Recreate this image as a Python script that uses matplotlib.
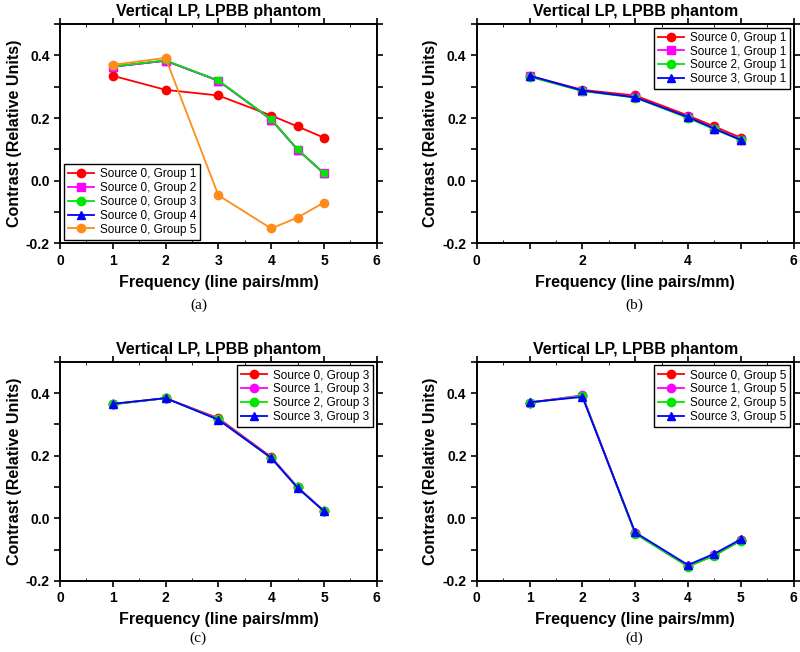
import matplotlib
matplotlib.use("Agg")
import matplotlib.pyplot as plt
from matplotlib.ticker import MultipleLocator

plt.rcParams["font.family"] = ["Liberation Sans", "DejaVu Sans"]

freq = [1, 2, 3, 4, 4.5, 5]

# panel (a): source 0, groups 1-5
a_g1 = [0.335, 0.290, 0.272, 0.208, 0.173, 0.137]
a_g2 = [0.364, 0.383, 0.319, 0.195, 0.099, 0.023]
a_g3 = [0.365, 0.384, 0.320, 0.196, 0.100, 0.023]
a_g4 = [0.364, 0.383, 0.319, 0.195, 0.099, 0.023]
a_g5 = [0.370, 0.392, -0.047, -0.153, -0.118, -0.070]

# panel (b): sources 0-3, group 1
b_s0 = [0.335, 0.290, 0.272, 0.208, 0.173, 0.137]
b_s1 = [0.333, 0.287, 0.267, 0.202, 0.166, 0.131]
b_s2 = [0.332, 0.286, 0.265, 0.200, 0.164, 0.129]
b_s3 = [0.335, 0.288, 0.266, 0.203, 0.166, 0.130]

# panel (c): sources 0-3, group 3
c_s0 = [0.365, 0.384, 0.320, 0.196, 0.100, 0.023]
c_s1 = [0.365, 0.384, 0.318, 0.194, 0.099, 0.023]
c_s2 = [0.364, 0.384, 0.316, 0.193, 0.099, 0.023]
c_s3 = [0.366, 0.384, 0.315, 0.193, 0.097, 0.023]

# panel (d): sources 0-3, group 5
d_s0 = [0.370, 0.392, -0.048, -0.153, -0.118, -0.070]
d_s1 = [0.370, 0.393, -0.048, -0.153, -0.118, -0.070]
d_s2 = [0.369, 0.391, -0.049, -0.154, -0.119, -0.071]
d_s3 = [0.371, 0.388, -0.045, -0.149, -0.113, -0.067]

RED, MAG, GRN, BLU, ORG = "#ff0000", "#ff00ff", "#00e600", "#0000ff", "#ff8c1a"

fig = plt.figure(figsize=(8, 6.52), dpi=100)
positions = {
    "a": [0.075, 0.627, 0.396, 0.336],
    "b": [0.596, 0.627, 0.396, 0.336],
    "c": [0.075, 0.109, 0.396, 0.336],
    "d": [0.596, 0.109, 0.396, 0.336],
}


def style_axes(ax, xstep_label):
    ax.set_xlim(0, 6)
    ax.set_ylim(-0.2, 0.5)
    ax.xaxis.set_minor_locator(MultipleLocator(0.5))
    ax.tick_params(which="major", direction="out", length=4, width=1.2,
                   top=True, right=True, labelsize=10)
    ax.tick_params(which="minor", direction="in", length=2, width=0.6,
                   top=True, bottom=True)
    xt = list(range(0, 7))
    ax.set_xticks(xt)
    ax.set_xticklabels([str(v) if v % xstep_label == 0 else "" for v in xt],
                       fontweight="bold")
    yt = [-0.2, -0.1, 0.0, 0.1, 0.2, 0.3, 0.4, 0.5]
    ax.set_yticks(yt)
    ax.set_yticklabels(["-0.2", "", "0.0", "", "0.2", "", "0.4", ""],
                       fontweight="bold")
    for s in ax.spines.values():
        s.set_linewidth(1.4)
    ax.set_title("Vertical LP, LPBB phantom", fontsize=11.5, fontweight="bold", pad=6)
    ax.set_xlabel("Frequency (line pairs/mm)", fontsize=11.5, fontweight="bold", labelpad=5)
    ax.set_ylabel("Contrast (Relative Units)", fontsize=11.5, fontweight="bold", labelpad=3)


def legend(ax, handles=None, labels=None, loc="upper right"):
    if handles is None:
        handles, labels = ax.get_legend_handles_labels()
    leg = ax.legend(handles, labels, loc=loc, fontsize=8.5, frameon=True,
                    fancybox=False, framealpha=1, borderpad=0.35, labelspacing=0.15,
                    handlelength=2.2, handletextpad=0.5, borderaxespad=0.3)
    leg.get_frame().set_edgecolor("black")
    leg.get_frame().set_linewidth(1.0)


def panel_label(x, y, text):
    fig.text(x, y, text, family=["Liberation Serif", "DejaVu Serif"],
             fontsize=11, ha="center", va="center")


kw = dict(linewidth=1.3, markersize=6)

# (a)
ax = fig.add_axes(positions["a"])
ax.plot(freq, a_g1, color=RED, marker="o", label="Source 0, Group 1", **kw)
ax.plot(freq, a_g4, color=BLU, marker="^", label="Source 0, Group 4", **kw)
ax.plot(freq, a_g2, color=MAG, marker="s", label="Source 0, Group 2", **kw)
ax.plot(freq, a_g3, color=GRN, marker="s", linewidth=1.3, markersize=5)
ax.plot([], [], color=GRN, marker="o", label="Source 0, Group 3", **kw)
ax.plot(freq, a_g5, color=ORG, marker="o", label="Source 0, Group 5", **kw)
handles, labels = ax.get_legend_handles_labels()
order = [labels.index("Source 0, Group %d" % g) for g in range(1, 6)]
legend(ax, [handles[i] for i in order], [labels[i] for i in order], loc="lower left")
style_axes(ax, 1)
panel_label(0.248, 0.532, "(a)")

# (b)
ax = fig.add_axes(positions["b"])
ax.plot(freq, b_s0, color=RED, marker="o", label="Source 0, Group 1", **kw)
ax.plot(freq, b_s1, color=MAG, marker="s", label="Source 1, Group 1", **kw)
ax.plot(freq, b_s2, color=GRN, marker="o", label="Source 2, Group 1", **kw)
ax.plot(freq, b_s3, color=BLU, marker="^", label="Source 3, Group 1", **kw)
legend(ax)
style_axes(ax, 2)
panel_label(0.7925, 0.532, "(b)")

# (c)
ax = fig.add_axes(positions["c"])
ax.plot(freq, c_s0, color=RED, marker="o", label="Source 0, Group 3", **kw)
ax.plot(freq, c_s1, color=MAG, marker="o", label="Source 1, Group 3", **kw)
ax.plot(freq, c_s2, color=GRN, marker="o", label="Source 2, Group 3", **kw)
ax.plot(freq, c_s3, color=BLU, marker="^", label="Source 3, Group 3", **kw)
legend(ax)
style_axes(ax, 1)
panel_label(0.248, 0.021, "(c)")

# (d)
ax = fig.add_axes(positions["d"])
ax.plot(freq, d_s0, color=RED, marker="o", label="Source 0, Group 5", **kw)
ax.plot(freq, d_s1, color=MAG, marker="o", label="Source 1, Group 5", **kw)
ax.plot(freq, d_s2, color=GRN, marker="o", label="Source 2, Group 5", **kw)
ax.plot(freq, d_s3, color=BLU, marker="^", label="Source 3, Group 5", **kw)
legend(ax)
style_axes(ax, 1)
panel_label(0.7925, 0.021, "(d)")

fig.savefig("out.png", dpi=100)
